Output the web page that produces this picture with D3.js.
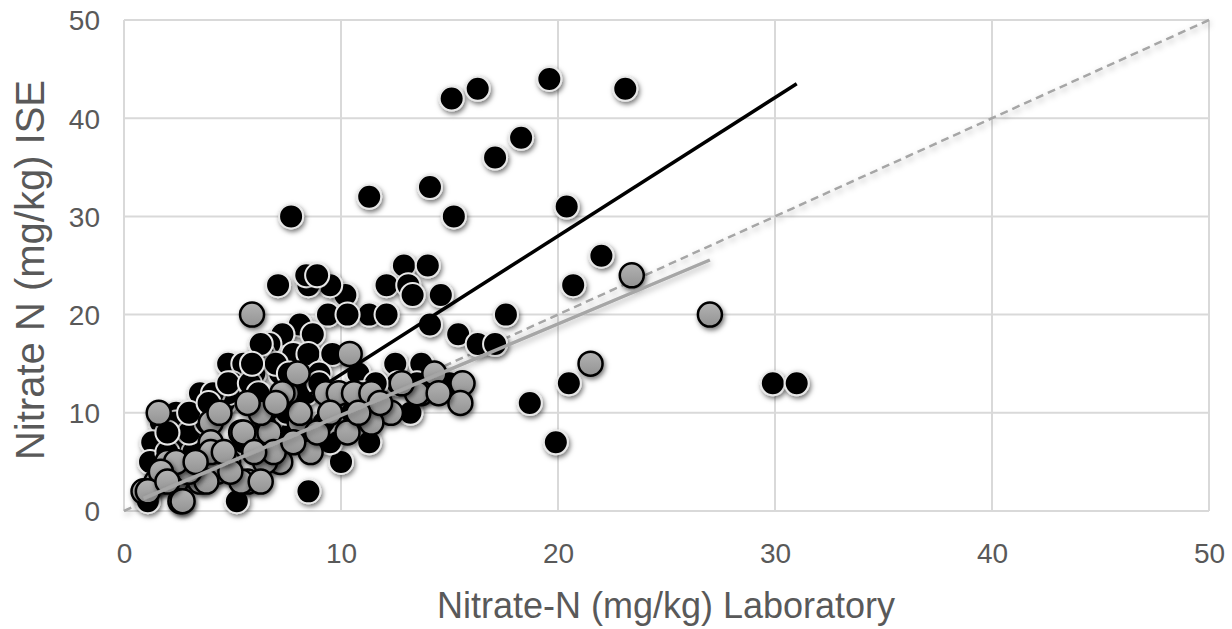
<!DOCTYPE html>
<html>
<head>
<meta charset="utf-8">
<script src="https://cdn.jsdelivr.net/npm/d3@7"></script>
<style>
  body { margin: 0; background: #fff; }
  text { font-family: "Liberation Sans", Arial, sans-serif; fill: #595959; }
</style>
</head>
<body>
<svg id="chart"></svg>
<script>
var width = 1232,
    height = 629;

// ISE readings vs laboratory, black series
var blackLab = [15.1,16.3,19.6,23.1,18.3,17.1,14.1,11.3,7.7,15.2,20.4,22.0,20.7,17.6,14.6,15.4,16.3,17.1,20.5,18.7,19.9,29.9,31.0,15.0,
  12.9,14.0,12.1,13.1,13.3,14.1,11.3,12.1,10.2,9.5,8.5,8.4,8.9,9.4,10.3,8.1,8.7,7.3,7.1,6.7,7.8,8.5,9.6,4.8,5.5,6.0,5.0,7.2,8.4,
  12.5,13.7,12.6,13.2,11.3,10.0,8.5,5.2,4.6,3.5,2.4,1.7,1.3,2.6,1.2,1.1,3.2,7.7,9.5,4.8,4.1,4.8,5.8,2.4,3.0,6.4,7.0,6.2,10.8,
  11.6,9.0,11.0,10.5,11.8,13.5,3.8,2.0,1.5,2.8,6.5,5.5,9.2,9.0,7.5,3.0,2.0,6.3,7.6,5.9,3.9];
var blackIse = [42,43,44,43,38,36,33,32,30,30,31,26,23,20,22,18,17,17,13,11,7,13,13,13,
  25,25,23,23,22,19,20,20,22,23,23,24,24,20,20,19,18,18,23,17,16,16,16,15,15,14,13,14,12,
  15,15,13,10,7,5,2,1,11,12,10,9,7,7,5,1,6,8,7,12,12,13,13,9,8,16,15,12,14,
  13,14,12,10,11,13,9,6,3,4,9,7,9,13,10,10,8,17,14,15,11];

// grey series
var greyLab = [23.4,27.0,21.5,15.6,15.5,5.9,1.6,10.4,7.5,9.3,9.9,10.6,11.4,13.7,12.3,11.4,10.3,8.6,7.2,6.5,5.7,8.1,6.7,5.4,4.0,4.4,
  2.0,1.5,0.9,2.4,2.9,2.6,3.5,4.0,4.8,4.3,5.4,6.3,6.9,8.9,8.1,6.3,5.7,7.3,5.5,4.9,3.8,3.0,2.4,1.7,1.1,2.7,4.0,4.6,13.5,12.8,
  11.8,14.3,9.5,10.8,7.8,6.0,3.3,2.0,8.0,7.0,14.5];
var greyIse = [24,20,15,13,11,20,10,16,12,12,12,12,12,12,10,9,8,6,5,5,3,9,8,8,9,10,
  5,3,2,3,4,1,3,7,5,4,3,3,6,8,10,10,11,12,8,4,3,4,5,4,2,1,6,6,12,13,
  11,14,10,10,7,6,5,3,14,11,12];

// trend lines: slope, intercept, x range
var fitSlope = [1.41, 0.93];
var fitIntercept = [-0.2, 0.45];
var fitStart = [1.06, 0.9];
var fitEnd = [31.0, 27.0];

var xTicks = [0, 10, 20, 30, 40, 50];
var yTicks = [0, 10, 20, 30, 40, 50];

var svg = d3.select('#chart')
            .attr('width', width)
            .attr('height', height);

var defs = svg.append('defs');
var shadow = defs.append('filter').attr('id', 'shadow')
    .attr('x', '-50%').attr('y', '-50%').attr('width', '200%').attr('height', '200%');
shadow.append('feDropShadow')
    .attr('dx', 1.5).attr('dy', 2.5).attr('stdDeviation', 2.5)
    .attr('flood-color', '#000').attr('flood-opacity', 0.55);

var lineShadow = defs.append('filter').attr('id', 'lineShadow')
    .attr('x', '-10%').attr('y', '-10%').attr('width', '120%').attr('height', '120%');
lineShadow.append('feDropShadow')
    .attr('dx', 1).attr('dy', 3).attr('stdDeviation', 3)
    .attr('flood-color', '#000').attr('flood-opacity', 0.3);

var grad = defs.append('linearGradient').attr('id', 'greyFill')
    .attr('x1', 0).attr('y1', 0).attr('x2', 0).attr('y2', 1);
grad.append('stop').attr('offset', '0%').attr('stop-color', '#b3b3b3');
grad.append('stop').attr('offset', '100%').attr('stop-color', '#939393');

var x = d3.scaleLinear().domain([0, 50]).range([124, 1209]);
var y = d3.scaleLinear().domain([0, 50]).range([511, 20]);

// grid
svg.append('g')
  .selectAll('line')
  .data(xTicks)
  .enter()
  .append('line')
    .attr('x1', d => x(d)).attr('x2', d => x(d))
    .attr('y1', y(0)).attr('y2', y(50))
    .attr('stroke', '#d9d9d9').attr('stroke-width', 2);

svg.append('g')
  .selectAll('line')
  .data(yTicks)
  .enter()
  .append('line')
    .attr('y1', d => y(d)).attr('y2', d => y(d))
    .attr('x1', x(0)).attr('x2', x(50))
    .attr('stroke', '#d9d9d9').attr('stroke-width', 2);

// tick labels
var xAxis = svg.append('g')
  .attr('transform', 'translate(0,' + (y(0) + 52) + ')')
  .call(d3.axisBottom(x).tickValues(xTicks).tickSize(0).tickPadding(0));
var yAxis = svg.append('g')
  .attr('transform', 'translate(' + (x(0) - 24) + ',0)')
  .call(d3.axisLeft(y).tickValues(yTicks).tickSize(0).tickPadding(0));
[xAxis, yAxis].forEach(function(a){
  a.select('.domain').remove();
  a.selectAll('text')
    .style('font-size', '28px')
    .style('font-family', '"Liberation Sans", Arial, sans-serif')
    .attr('fill', '#595959');
});
yAxis.selectAll('text').attr('dy', '0.35em');
xAxis.selectAll('text').attr('dy', '0');

// 1:1 line
svg.append('line')
  .attr('x1', x(0)).attr('y1', y(0))
  .attr('x2', x(50)).attr('y2', y(50))
  .attr('stroke', '#a6a6a6').attr('stroke-width', 2.5)
  .attr('stroke-dasharray', '8,5')
  .attr('filter', 'url(#lineShadow)');

function drawPoints(labArr, iseArr, cls){
  var data = labArr.map((d, i) => ({lab: d, ise: iseArr[i]}));
  var g = svg.append('g').classed(cls, true);
  g.selectAll('circle')
    .data(data)
    .enter()
    .append('circle')
      .attr('cx', d => x(d.lab))
      .attr('cy', d => y(d.ise))
      .attr('r', 12)
      .attr('fill', cls === 'black' ? '#000' : 'url(#greyFill)')
      .attr('stroke', cls === 'black' ? '#e8e8e8' : '#000')
      .attr('stroke-width', cls === 'black' ? 2 : 2.5)
      .attr('filter', 'url(#shadow)');
}

drawPoints(blackLab, blackIse, 'black');

// black fit line
svg.append('line')
  .attr('x1', x(fitStart[0])).attr('y1', y(fitSlope[0] * fitStart[0] + fitIntercept[0]))
  .attr('x2', x(fitEnd[0])).attr('y2', y(fitSlope[0] * fitEnd[0] + fitIntercept[0]))
  .attr('stroke', '#000').attr('stroke-width', 3.5);

drawPoints(greyLab, greyIse, 'grey');

// grey fit line
svg.append('line')
  .attr('x1', x(fitStart[1])).attr('y1', y(fitSlope[1] * fitStart[1] + fitIntercept[1]))
  .attr('x2', x(fitEnd[1])).attr('y2', y(fitSlope[1] * fitEnd[1] + fitIntercept[1]))
  .attr('stroke', '#a6a6a6').attr('stroke-width', 3.5)
  .attr('filter', 'url(#lineShadow)');

// axis titles
svg.append('text')
  .attr('x', 666).attr('y', 618)
  .style('font-size', '36px')
  .style('text-anchor', 'middle')
  .text('Nitrate-N (mg/kg) Laboratory');

svg.append('text')
  .attr('transform', 'translate(44,270) rotate(-90)')
  .style('font-size', '40px')
  .style('text-anchor', 'middle')
  .text('Nitrate N (mg/kg) ISE');
</script>
</body>
</html>
